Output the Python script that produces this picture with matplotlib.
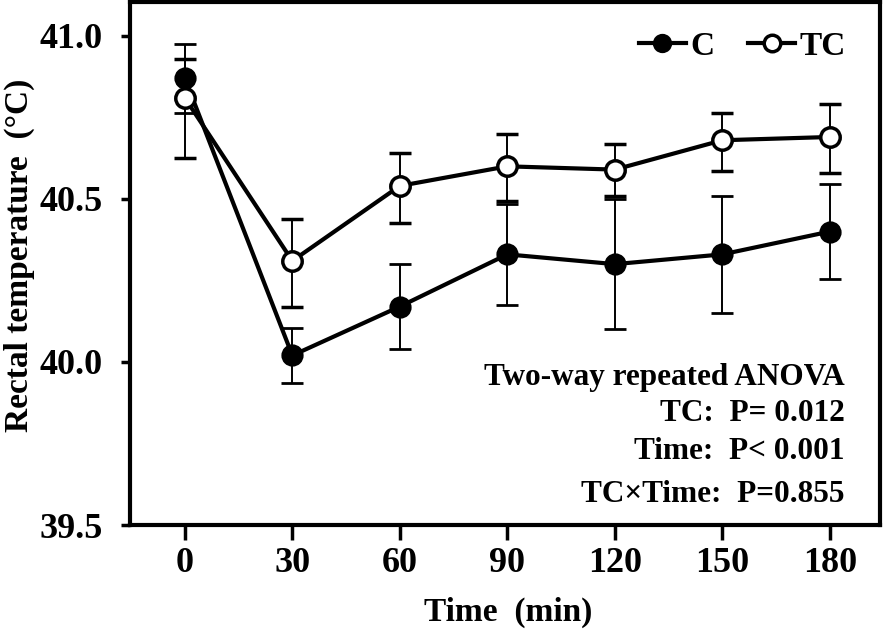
import matplotlib
matplotlib.use('Agg')
import matplotlib.pyplot as plt

# =========================
# DATA
# =========================
time_min = [0, 30, 60, 90, 120, 150, 180]

c_mean = [40.87, 40.02, 40.17, 40.33, 40.30, 40.33, 40.40]
c_err = [0.105, 0.085, 0.13, 0.155, 0.20, 0.18, 0.145]

tc_mean = [40.81, 40.31, 40.54, 40.60, 40.59, 40.68, 40.69]
tc_err_low = [0.185, 0.14, 0.115, 0.105, 0.08, 0.095, 0.11]
tc_err_high = [0.12, 0.13, 0.10, 0.10, 0.08, 0.085, 0.10]

stats_lines = ['Two-way repeated ANOVA',
               'TC:  P= 0.012',
               'Time:  P< 0.001',
               'TC\u00d7Time:  P=0.855']

# =========================
# STYLE
# =========================
plt.rcParams['font.family'] = ['Liberation Serif', 'DejaVu Serif']
plt.rcParams['font.weight'] = 'bold'

fig = plt.figure(figsize=(8.86, 6.33), dpi=100)
ax = fig.add_axes([130 / 886, 1 - 525 / 633, 750 / 886, 523 / 633])

# =========================
# PLOT
# =========================
eb_c = ax.errorbar(time_min, c_mean, yerr=c_err, color='black', lw=3,
                   marker='o', ms=14, mfc='black', mec='black', mew=2,
                   ecolor='black', elinewidth=1.4, capsize=8, capthick=1.4,
                   zorder=3)
eb_tc = ax.errorbar(time_min, tc_mean, yerr=[tc_err_low, tc_err_high], color='black', lw=3,
                    marker='o', ms=14, mfc='white', mec='black', mew=2.5,
                    ecolor='black', elinewidth=1.4, capsize=8, capthick=1.4,
                    zorder=4)

ax.set_xlim(-15.3, 194)
ax.set_ylim(39.5, 41.104)
ax.set_xticks(time_min)
ax.set_yticks([39.5, 40.0, 40.5, 41.0])
ax.set_yticklabels(['39.5', '40.0', '40.5', '41.0'])

for s in ax.spines.values():
    s.set_linewidth(3)
ax.tick_params(axis='y', direction='out', length=6.5, width=2.5, pad=13, labelsize=26)
ax.tick_params(axis='x', direction='out', length=11, width=2.5, pad=5, labelsize=26)

fig.text(19 / 886, 1 - 255 / 633, 'Rectal temperature  (\u00b0C)', rotation=90,
         ha='center', va='center', fontsize=24, fontweight='bold')
fig.text(508 / 886, 1 - 612 / 633, 'Time  (min)', ha='center', va='center',
         fontsize=24, fontweight='bold')

ax.legend([eb_c[0], eb_tc[0]], ['C', 'TC'], loc='center right',
          bbox_to_anchor=(0.955, 0.915), ncol=2, frameon=False, fontsize=24,
          markerscale=0.85, handlelength=1.4, handletextpad=0.15,
          columnspacing=1.0, borderpad=0, borderaxespad=0)

ys = [0.268, 0.199, 0.126, 0.044]
for txt, y in zip(stats_lines, ys):
    ax.text(0.953, y, txt, transform=ax.transAxes, ha='right', va='baseline',
            fontsize=22.5, fontweight='bold')

plt.savefig('out.png', dpi=100)
plt.close()
